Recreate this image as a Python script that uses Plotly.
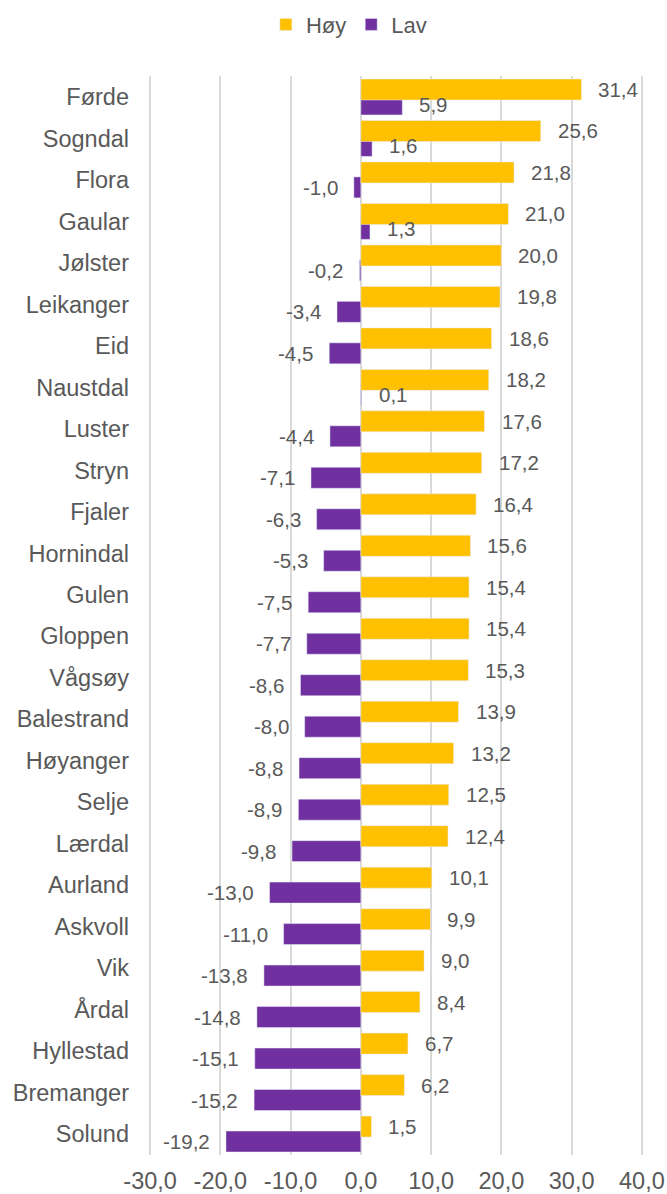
import plotly.graph_objects as go

kommuner = ["Førde", "Sogndal", "Flora", "Gaular", "Jølster", "Leikanger", "Eid",
            "Naustdal", "Luster", "Stryn", "Fjaler", "Hornindal", "Gulen", "Gloppen",
            "Vågsøy", "Balestrand", "Høyanger", "Selje", "Lærdal", "Aurland",
            "Askvoll", "Vik", "Årdal", "Hyllestad", "Bremanger", "Solund"]
hoy = [31.4, 25.6, 21.8, 21.0, 20.0, 19.8, 18.6, 18.2, 17.6, 17.2, 16.4, 15.6, 15.4,
       15.4, 15.3, 13.9, 13.2, 12.5, 12.4, 10.1, 9.9, 9.0, 8.4, 6.7, 6.2, 1.5]
lav = [5.9, 1.6, -1.0, 1.3, -0.2, -3.4, -4.5, 0.1, -4.4, -7.1, -6.3, -5.3, -7.5,
       -7.7, -8.6, -8.0, -8.8, -8.9, -9.8, -13.0, -11.0, -13.8, -14.8, -15.1, -15.2,
       -19.2]
x_ticks = [-30, -20, -10, 0, 10, 20, 30, 40]

YELLOW = "#FFC000"
PURPLE = "#7030A0"
TEXT = "#595959"
FONT = "Liberation Sans, Arial, sans-serif"

# bar thickness and start offsets (category units); the two bars overlap slightly
BAR_W = 0.506
HOY_OFF = -0.433
LAV_OFF = -0.073


def fmt(v):
    return f"{v:.1f}".replace(".", ",")


fig = go.Figure()
# Lav first so the Høy bar is painted over the shared strip
fig.add_trace(go.Bar(name="Lav", y=kommuner, x=lav, orientation="h",
                     marker_color=PURPLE, width=BAR_W, offset=LAV_OFF,
                     legendrank=2))
fig.add_trace(go.Bar(name="Høy", y=kommuner, x=hoy, orientation="h",
                     marker_color=YELLOW, width=BAR_W, offset=HOY_OFF,
                     legendrank=1))

# value labels just beyond each bar end
annotations = []
for i, (h, l) in enumerate(zip(hoy, lav)):
    for v, off in ((h, HOY_OFF), (l, LAV_OFF)):
        pos = i + off + BAR_W / 2
        annotations.append(dict(
            x=v, y=pos, xref="x", yref="y", text=fmt(v), showarrow=False,
            xanchor="left" if v >= 0 else "right",
            xshift=15 if v >= 0 else -14,
            yshift=0,
            font=dict(size=20.5, color=TEXT, family=FONT)))

fig.update_layout(
    barmode="overlay",
    width=667, height=1194,
    margin=dict(l=148, r=23, t=76, b=39),
    paper_bgcolor="white", plot_bgcolor="white",
    font=dict(family=FONT, size=23.5, color=TEXT),
    showlegend=True,
    legend=dict(orientation="h", x=0.405, xanchor="center", y=0.997, yanchor="top",
                yref="container", font=dict(size=22, color=TEXT),
                itemwidth=30),
    annotations=annotations,
)
fig.update_xaxes(range=[-30.3, 40.3], tickvals=x_ticks,
                 ticktext=[fmt(t) for t in x_ticks], automargin=False,
                 showgrid=True, gridcolor="#D9D9D9", gridwidth=2,
                 zeroline=False, showline=False,
                 tickfont=dict(size=23.5, color=TEXT), ticklabelstandoff=9)
fig.update_yaxes(type="category", autorange="reversed", showgrid=False,
                 zeroline=False, showline=False, automargin=False,
                 tickfont=dict(size=23.5, color=TEXT), ticklabelstandoff=18)

fig.write_html("out.html")
